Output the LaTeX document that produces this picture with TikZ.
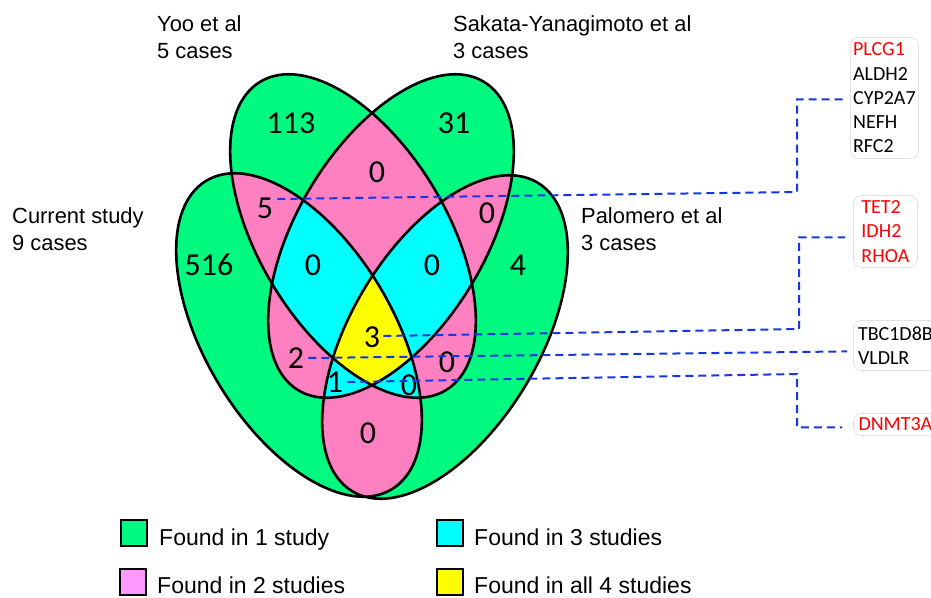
\documentclass[tikz,border=0pt]{standalone}
\usepackage{fontspec}
\setmainfont{Liberation Sans}
\newfontfamily\calib{Carlito}
\usetikzlibrary{calc}
\definecolor{vgreen}{RGB}{0,250,128}
\definecolor{vpink}{RGB}{255,128,192}
\definecolor{vcyan}{RGB}{0,255,255}
\definecolor{vyellow}{RGB}{255,255,0}
\definecolor{lpink}{RGB}{255,153,255}
\definecolor{dblue}{RGB}{25,55,225}
\definecolor{gred}{RGB}{255,0,0}
\definecolor{boxgray}{RGB}{225,225,225}
\newcommand\ellCur[1]{\path[#1,rotate around={59:(299,335)}] (299,335) ellipse [x radius=180, y radius=94];}
\newcommand\ellPal[1]{\path[#1,rotate around={-59:(445,337)}] (445,337) ellipse [x radius=180, y radius=94];}
\newcommand\ellYoo[1]{\path[#1,rotate around={59:(353,236)}] (353,236) ellipse [x radius=180, y radius=94];}
\newcommand\ellSak[1]{\path[#1,rotate around={-59:(391,236)}] (391,236) ellipse [x radius=180, y radius=94];}
\tikzset{
  lab/.style={font=\fontsize{21.9}{26}\selectfont, inner sep=0, anchor=base west},
  num/.style={font=\calib\fontsize{32}{32}\selectfont, inner sep=0},
  genebox/.style={draw=boxgray, line width=0.8pt, rounded corners=8pt, font=\calib\fontsize{20}{24.2}\selectfont, align=left, inner sep=0, anchor=north west},
  legbox/.style={draw=black, line width=1.4pt, minimum size=26, inner sep=0},
  legtext/.style={font=\fontsize{23}{27}\selectfont, inner sep=0, anchor=base west},
  conn/.style={draw=dblue, line width=2pt, dash pattern=on 8pt off 5pt},
  outline/.style={draw=black, line width=2.6pt}
}
\begin{document}
\begin{tikzpicture}[x=1pt,y=1pt,yscale=-1]
\useasboundingbox (0,0) rectangle (931,597);
% one study (union)
\ellCur{fill=vgreen}\ellPal{fill=vgreen}\ellYoo{fill=vgreen}\ellSak{fill=vgreen}
% two studies
\begin{scope}\ellCur{clip}\ellPal{fill=vpink}\end{scope}
\begin{scope}\ellCur{clip}\ellYoo{fill=vpink}\end{scope}
\begin{scope}\ellCur{clip}\ellSak{fill=vpink}\end{scope}
\begin{scope}\ellPal{clip}\ellYoo{fill=vpink}\end{scope}
\begin{scope}\ellPal{clip}\ellSak{fill=vpink}\end{scope}
\begin{scope}\ellYoo{clip}\ellSak{fill=vpink}\end{scope}
% three studies
\begin{scope}\ellCur{clip}\ellPal{clip}\ellYoo{fill=vcyan}\end{scope}
\begin{scope}\ellCur{clip}\ellPal{clip}\ellSak{fill=vcyan}\end{scope}
\begin{scope}\ellCur{clip}\ellYoo{clip}\ellSak{fill=vcyan}\end{scope}
\begin{scope}\ellPal{clip}\ellYoo{clip}\ellSak{fill=vcyan}\end{scope}
% four studies
\begin{scope}\ellCur{clip}\ellPal{clip}\ellYoo{clip}\ellSak{fill=vyellow}\end{scope}
% outlines
\ellCur{outline}\ellPal{outline}\ellYoo{outline}\ellSak{outline}

% set labels
\node[lab] (yoo1) at (157,31) {Yoo et al};
\node[lab] (yoo2) at (157,58) {5 cases};
\node[lab] (sak1) at (453,31) {Sakata-Yanagimoto et al};
\node[lab] (sak2) at (453,58) {3 cases};
\node[lab] (cur1) at (12,223) {Current study};
\node[lab] (cur2) at (12,250) {9 cases};
\node[lab] (pal1) at (581,223) {Palomero et al};
\node[lab] (pal2) at (581,250) {3 cases};

% region counts
\node[num] (n113) at (291,123) {113};
\node[num] (n31) at (454,123) {31};
\node[num] (nYS) at (377,172) {0};
\node[num] (n5) at (265,208) {5};
\node[num] (nSP) at (487,213) {0};
\node[num] (n516) at (209,265) {516};
\node[num] (nCYS) at (313,265) {0};
\node[num] (nYSP) at (432,265) {0};
\node[num] (n4) at (518,265) {4};
\node[num] (n3) at (372,337) {3};
\node[num] (n2) at (296,358) {2};
\node[num] (nYP) at (447,362) {0};
\node[num] (n1) at (335,382) {1};
\node[num] (nCYP) at (409,385) {0};
\node[num] (nCP) at (368,433) {0};

% gene boxes
\node[genebox, minimum width=68, minimum height=121] (g1) at (850,37)
  {\textcolor{gred}{PLCG1}\\ALDH2\\CYP2A7\\NEFH\\RFC2};
\node[genebox, minimum width=64, minimum height=72, text=gred] (g2) at (853,195)
  {TET2\\IDH2\\RHOA};
\node[genebox, minimum width=84, minimum height=50] (g3) at (853,320)
  {TBC1D8B\\VLDLR};
\node[genebox, minimum width=84, minimum height=22, text=gred] (g4) at (853,413)
  {DNMT3A};

% connectors
\coordinate (k1) at (797,192);
\coordinate (k2) at (799,329);
\coordinate (k4) at (797,374);
\draw[conn] ($(n5.east)+(4,-9)$) -- (k1) |- ($(g1.west)+(-5,1.5)$);
\draw[conn] ($(n3.east)+(3,-1)$) -- (k2) |- ($(g2.west)+(-8,6)$);
\draw[conn] ($(n2.east)+(4,0)$) -- ($(g3.west)+(-6,6)$);
\draw[conn] ($(n1.east)+(4,0)$) -- (k4) |- ($(g4.west)+(-11,3)$);

% legend
\node[legbox, fill=vgreen] (lb1) at (134,533) {};
\node[legtext] (lt1) at (159,545) {Found in 1 study};
\node[legbox, fill=lpink] (lb2) at (133,582) {};
\node[legtext] (lt2) at (157,593) {Found in 2 studies};
\node[legbox, fill=vcyan] (lb3) at (450,533) {};
\node[legtext] (lt3) at (474,545) {Found in 3 studies};
\node[legbox, fill=vyellow] (lb4) at (450,582) {};
\node[legtext] (lt4) at (474,593) {Found in all 4 studies};
\end{tikzpicture}
\end{document}
